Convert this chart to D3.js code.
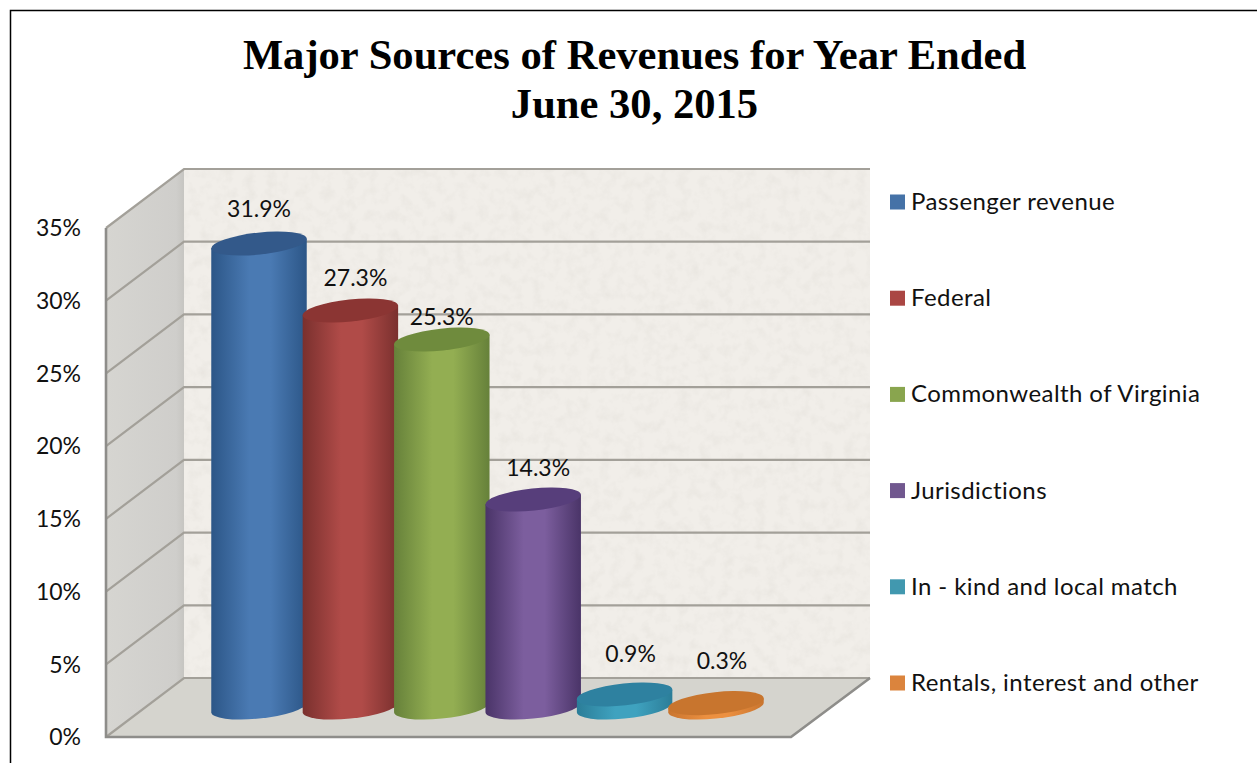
<!DOCTYPE html>
<html lang="en">
<head>
<meta charset="UTF-8">
<title>Major Sources of Revenues</title>
<script src="https://d3js.org/d3.v7.min.js"></script>
<style>
    html, body { margin: 0; padding: 0; background: #fff; overflow: hidden; }
    svg { display: block; }
    text { fill: #111; font-family: Lato, "Open Sans", sans-serif; }
    .title { font-family: "Liberation Serif", serif; font-weight: bold; font-size: 42.6px; text-anchor: middle; fill: #000; }
    .lbl { font-size: 23px; text-anchor: middle; }
    .leg { font-size: 24px; letter-spacing: 0.42px; }
</style>
</head>
<body>
<svg id="chart" width="1257" height="763"></svg>
<script>
// data
const categories = ["Passenger revenue", "Federal", "Commonwealth of Virginia", "Jurisdictions", "In - kind and local match", "Rentals, interest and other"];
const values = [31.9, 27.3, 25.3, 14.3, 0.9, 0.3];
const tickValues = [0, 5, 10, 15, 20, 25, 30, 35];
const titleLines = ["Major Sources of Revenues for Year Ended", "June 30, 2015"];

// colours per series: centre of body, edge of body, top cap, legend
const bodyLight = ["#4a7ab3", "#b04b48", "#93ae52", "#7c5e9e", "#3fa2bf", "#ec9040"];
const bodyDark = ["#2c5687", "#7a302e", "#66813a", "#4a3468", "#2b7d98", "#c9752f"];
const capColor = ["#33598a", "#8b3533", "#6f8b3d", "#573e7b", "#2e81a0", "#c8752e"];
const legendColor = ["#4572a7", "#aa4643", "#89a54e", "#71588f", "#4198af", "#db843d"];

// label nudges above the cylinder top (dx, dy), the original has them hand placed
const labelDx = [0, 5, 0, 5, 6, 6];
const labelDy = [35, 33, 23, 32, 40, 42];

const svg = d3.select("#chart");
const defs = svg.append("defs");

const frontY = d3.scaleLinear().domain([0, 35]).range([737, 228]);
const backY = d3.scaleLinear().domain([0, 35]).range([678, 169]);
const midY = d3.scaleLinear().domain([0, 35]).range([707.5, 198.5]);
const x = d3.scaleBand().domain(categories).range([213.3, 761.7]).padding(0);
const legendY = d3.scalePoint().domain(categories).range([202, 683]);

const frontX = 106, backX = 184, wallRight = 870, floorRight = 791;
const gridColor = "#a3a099", edgeColor = "#8e8d8a";

// speckle for the stone wall
const noise = defs.append("filter").attr("id", "stone").attr("x", 0).attr("y", 0).attr("width", 1).attr("height", 1);
noise.append("feTurbulence").attr("type", "fractalNoise").attr("baseFrequency", 0.09).attr("numOctaves", 3).attr("seed", 4);
noise.append("feColorMatrix").attr("values", "0 0 0 0 0.55  0 0 0 0 0.53  0 0 0 0 0.48  0 0 0 -2.2 1.25");

const sideGrad = defs.append("linearGradient").attr("id", "side");
sideGrad.append("stop").attr("offset", 0).attr("stop-color", "#d6d5d1");
sideGrad.append("stop").attr("offset", 0.9).attr("stop-color", "#cfcecb");
sideGrad.append("stop").attr("offset", 1).attr("stop-color", "#c6c5c1");

// frame around the page
svg.append("path").attr("d", "M10.5,763V10.5H1257").attr("fill", "none").attr("stroke", "#000").attr("stroke-width", 1.5);

svg.selectAll("text.title").data(titleLines).enter().append("text")
    .attr("class", "title")
    .attr("x", 634.5)
    .attr("y", (d, i) => 69 + i * 49)
    .text(d => d);

// back wall
svg.append("rect").attr("x", backX).attr("y", backY(35)).attr("width", wallRight - backX).attr("height", backY(0) - backY(35)).attr("fill", "#f1eee9");
svg.append("rect").attr("x", backX).attr("y", backY(35)).attr("width", wallRight - backX).attr("height", backY(0) - backY(35)).attr("filter", "url(#stone)").attr("opacity", 0.15);

// side wall
svg.append("path")
    .attr("d", `M${frontX},${frontY(35)}L${backX},${backY(35)}V${backY(0)}L${frontX},${frontY(0)}Z`)
    .attr("fill", "url(#side)");

// floor
svg.append("path")
    .attr("d", `M${frontX},${frontY(0)}L${backX},${backY(0)}H${wallRight}L${floorRight},${frontY(0)}Z`)
    .attr("fill", "#d5d4ce");

// gridlines on back wall and side wall
const grid = svg.append("g").attr("fill", "none").attr("stroke", gridColor).attr("stroke-width", 2.2);
grid.selectAll("path").data(tickValues).enter().append("path")
    .attr("d", d => `M${frontX},${frontY(d)}L${backX},${backY(d)}H${wallRight}`);

// heavier edges
svg.append("path")
    .attr("d", `M${frontX},${frontY(35)}V${frontY(0)}H${floorRight}L${wallRight},${backY(0)}`)
    .attr("fill", "none").attr("stroke", edgeColor).attr("stroke-width", 2.6);

// y axis labels
const yAxis = d3.axisLeft(frontY).tickValues(tickValues).tickSize(0).tickPadding(0).tickFormat(d => d + "%");
const axisG = svg.append("g").attr("transform", "translate(81,0.4)").call(yAxis);
axisG.select(".domain").remove();
axisG.selectAll("text").style("font-size", "23px").style("font-family", "Lato, sans-serif").attr("dy", "0.32em").attr("fill", "#111");

// cylinders
const rx = x.bandwidth() * 0.525, ry = 11, tilt = -6;
const phi = tilt * Math.PI / 180;
// point on tilted ellipse where the tangent is vertical
const t0 = Math.atan2(-ry * Math.sin(phi), rx * Math.cos(phi));
const tanX = rx * Math.cos(t0) * Math.cos(phi) - ry * Math.sin(t0) * Math.sin(phi);
const tanY = rx * Math.cos(t0) * Math.sin(phi) + ry * Math.sin(t0) * Math.cos(phi);

const grads = defs.selectAll("linearGradient.body").data(categories).enter().append("linearGradient")
    .attr("class", "body").attr("id", (d, i) => "body" + i);
grads.append("stop").attr("offset", 0).attr("stop-color", (d, i) => bodyDark[i]);
grads.append("stop").attr("offset", 0.4).attr("stop-color", (d, i) => bodyLight[i]);
grads.append("stop").attr("offset", 0.62).attr("stop-color", (d, i) => bodyLight[i]);
grads.append("stop").attr("offset", 1).attr("stop-color", (d, i) => bodyDark[i]);

const bars = svg.selectAll("g.bar").data(categories).enter().append("g").attr("class", "bar");

bars.append("path")
    .attr("fill", (d, i) => `url(#body${i})`)
    .attr("d", (d, i) => {
        const cx = x(d) + x.bandwidth() / 2;
        const top = midY(values[i]), base = midY(0);
        return `M${cx + tanX},${top + tanY}L${cx + tanX},${base + tanY}` +
            `A${rx},${ry} ${tilt} 0 1 ${cx - tanX},${base - tanY}` +
            `L${cx - tanX},${top - tanY}Z`;
    });

bars.append("ellipse")
    .attr("rx", rx).attr("ry", ry)
    .attr("fill", (d, i) => capColor[i])
    .attr("transform", (d, i) => `translate(${x(d) + x.bandwidth() / 2},${midY(values[i])}) rotate(${tilt})`);

// data labels
svg.selectAll("text.lbl").data(categories).enter().append("text")
    .attr("class", "lbl")
    .attr("x", (d, i) => x(d) + x.bandwidth() / 2 + labelDx[i])
    .attr("y", (d, i) => midY(values[i]) - labelDy[i])
    .attr("dy", "0.35em")
    .text((d, i) => values[i].toFixed(1) + "%");

// legend
const leg = svg.selectAll("g.legend").data(categories).enter().append("g")
    .attr("class", "legend")
    .attr("transform", d => `translate(890,${legendY(d)})`);
leg.append("rect").attr("x", 0).attr("y", -7.5).attr("width", 15).attr("height", 15).attr("fill", (d, i) => legendColor[i]);
leg.append("text").attr("class", "leg").attr("x", 21).attr("dy", "0.33em").text(d => d);
</script>
</body>
</html>
